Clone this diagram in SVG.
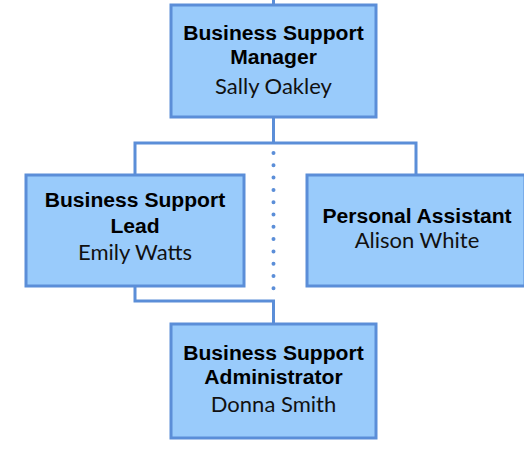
<svg xmlns="http://www.w3.org/2000/svg" width="524" height="450" viewBox="0 0 524 450">
<style>
.box{fill:#99cbfb;stroke:#5b8ed8;stroke-width:3}
.ln{fill:none;stroke:#5b8ed8;stroke-width:3}
.dot{fill:none;stroke:#5b8ed8;stroke-width:4;stroke-linecap:round;stroke-dasharray:0 12.3}
.t{font-family:"Liberation Sans",Arial,sans-serif;font-weight:bold;font-size:21.1px;fill:#000;text-anchor:middle}
.n{font-family:Lato,"Liberation Sans",sans-serif;font-size:22px;fill:#111;text-anchor:middle}
</style>
<rect width="524" height="450" fill="#fff"/>
<g id="connectors">
<path class="ln" d="M273.5 0V5"/>
<path class="ln" d="M273.5 117V143M135 174V143H416V174"/>
<path class="ln" d="M135 286V301H273.5V324"/>
<path class="dot" d="M273.5 153V290"/>
</g>
<g id="manager">
<rect class="box" x="171" y="5" width="205" height="112"/>
<text class="t" x="273.5" y="40">Business Support</text>
<text class="t" x="273.5" y="64">Manager</text>
<text class="n" x="273.5" y="94">Sally Oakley</text>
</g>
<g id="lead">
<rect class="box" x="26" y="175" width="218" height="111"/>
<text class="t" x="135" y="207">Business Support</text>
<text class="t" x="135" y="233">Lead</text>
<text class="n" x="135" y="260">Emily Watts</text>
</g>
<g id="assistant">
<rect class="box" x="307" y="175" width="218" height="111"/>
<text class="t" x="417" y="223">Personal Assistant</text>
<text class="n" x="417" y="248">Alison White</text>
</g>
<g id="administrator">
<rect class="box" x="171" y="324" width="205" height="114"/>
<text class="t" x="273.5" y="360">Business Support</text>
<text class="t" x="273.5" y="384">Administrator</text>
<text class="n" x="273.5" y="412">Donna Smith</text>
</g>
</svg>
